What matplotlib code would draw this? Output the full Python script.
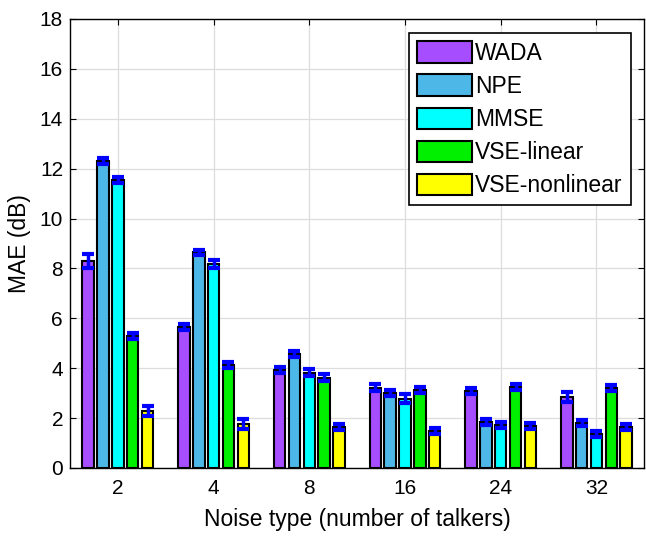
import numpy as np
import matplotlib
matplotlib.use("Agg")
import matplotlib.pyplot as plt

plt.rcParams['font.family'] = ['Liberation Sans', 'DejaVu Sans']

groups = ['2', '4', '8', '16', '24', '32']
methods = ['WADA', 'NPE', 'MMSE', 'VSE-linear', 'VSE-nonlinear']
colors = ['#A64DFF', '#4DB8E8', '#00FFFF', '#00F000', '#FFFF00']

# MAE per method, one value per noise type
wada = [8.3, 5.65, 3.93, 3.22, 3.1, 2.85]
npe = [12.32, 8.65, 4.57, 3.0, 1.85, 1.8]
mmse = [11.55, 8.17, 3.82, 2.78, 1.72, 1.36]
vse_lin = [5.3, 4.12, 3.62, 3.12, 3.25, 3.22]
vse_nl = [2.28, 1.76, 1.65, 1.5, 1.68, 1.63]

wada_err = [0.28, 0.12, 0.13, 0.13, 0.12, 0.2]
npe_err = [0.12, 0.1, 0.13, 0.12, 0.12, 0.12]
mmse_err = [0.12, 0.15, 0.15, 0.18, 0.12, 0.12]
vse_lin_err = [0.13, 0.12, 0.13, 0.12, 0.12, 0.12]
vse_nl_err = [0.2, 0.2, 0.12, 0.12, 0.12, 0.12]

values = [wada, npe, mmse, vse_lin, vse_nl]
errors = [wada_err, npe_err, mmse_err, vse_lin_err, vse_nl_err]

fig = plt.figure(figsize=(6.46, 5.36), dpi=100)
ax = fig.add_axes([0.1084, 0.1269, 0.889, 0.8377])

x = np.arange(1, len(groups) + 1)
step = 0.155
width = 0.12
for i, (vals, errs) in enumerate(zip(values, errors)):
    pos = x + (i - 2) * step
    ax.bar(pos, vals, width, color=colors[i], edgecolor='black', linewidth=1.5,
           label=methods[i], zorder=3)
    ax.errorbar(pos, vals, yerr=errs, fmt='none', ecolor='#0000FF',
                elinewidth=2.5, capsize=4.5, capthick=3, zorder=4)

ax.set_xlim(0.5, 6.5)
ax.set_ylim(0, 18)
ax.set_xticks(x)
ax.set_xticklabels(groups)
ax.set_yticks(np.arange(0, 19, 2))
ax.grid(True, color='#DDDDDD', linewidth=0.9, zorder=0)
ax.set_axisbelow(True)
ax.tick_params(direction='in', top=True, right=True, labelsize=15, length=4)
ax.tick_params(axis='x', pad=8)
ax.tick_params(axis='y', pad=5)
for sp in ax.spines.values():
    sp.set_linewidth(1.0)

ax.set_xlabel('Noise type (number of talkers)', fontsize=16.5, labelpad=7)
ax.set_ylabel('MAE (dB)', fontsize=16.5, labelpad=6)

leg = ax.legend(loc='upper right', bbox_to_anchor=(0.976, 0.968), fontsize=16.5,
                fancybox=False, framealpha=1, edgecolor='black',
                handlelength=2.4, handleheight=1.05, handletextpad=0.15,
                labelspacing=0.42, borderpad=0.35, borderaxespad=0)
leg.get_frame().set_linewidth(1.2)

fig.savefig('out.png', dpi=100)
